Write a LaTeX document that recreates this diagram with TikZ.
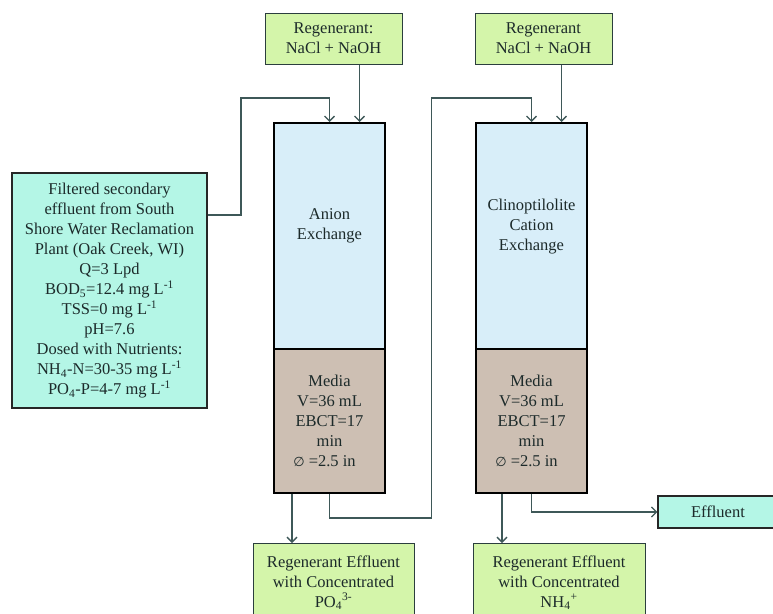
\documentclass[tikz,border=0pt]{standalone}
\usepackage{fontspec}
\setmainfont{Liberation Serif}
\newfontfamily\symfont{DejaVu Sans}
\usetikzlibrary{arrows.meta,calc}
\definecolor{boxgreen}{RGB}{212,245,170}
\definecolor{boxcyan}{RGB}{180,246,230}
\definecolor{colblue}{RGB}{216,238,249}
\definecolor{media}{RGB}{205,191,179}
\definecolor{pipe}{RGB}{62,88,88}
\definecolor{txt}{RGB}{28,42,42}
\begin{document}
\begin{tikzpicture}[x=1pt,y=-1pt,
  every node/.style={font=\fontsize{16.5}{20}\selectfont, text=txt, align=center, inner sep=0pt},
  gbox/.style={draw=pipe!70!black, fill=boxgreen, line width=1pt},
  cbox/.style={draw=black!85, fill=boxcyan, line width=1.2pt},
  colpart/.style={draw=black, line width=2pt},
  flow/.style={draw=pipe, line width=1.3pt, -{Straight Barb[length=5pt,width=10pt]}}]
\useasboundingbox (0,0) rectangle (773,613);
\fill[white] (0,0) rectangle (773,613);

% source box
\node (feed) [cbox, minimum width=195pt, minimum height=235pt] at (109.5,290.5)
 {Filtered secondary\\effluent from South\\Shore Water Reclamation\\Plant (Oak Creek, WI)\\Q=3 Lpd\\
  BOD\textsubscript{5}=12.4 mg L\textsuperscript{-1}\\TSS=0 mg L\textsuperscript{-1}\\pH=7.6\\
  Dosed with Nutrients:\\NH\textsubscript{4}-N=30-35 mg L\textsuperscript{-1}\\PO\textsubscript{4}-P=4-7 mg L\textsuperscript{-1}};

% regenerant boxes
\node (regL) [gbox, minimum width=137pt, minimum height=51pt] at (333.5,38.5) {Regenerant:\\NaCl + NaOH};
\node (regR) [gbox, minimum width=137pt, minimum height=51pt] at (543.5,38.5) {Regenerant\\NaCl + NaOH};

% columns
\node (colLtop) [colpart, fill=colblue, minimum width=111pt, minimum height=226pt] at (329.5,236) {};
\node (colLbot) [colpart, fill=media, minimum width=111pt, minimum height=144pt] at (329.5,421)
 {Media\\V=36 mL\\EBCT=17\\min\\{\symfont\fontsize{13}{20}\selectfont ∅} =2.5 in\hspace*{10pt}};
\node (colLtxt) at ($(colLtop.center)+(0,-10)$) {Anion\\Exchange};

\node (colRtop) [colpart, fill=colblue, minimum width=111pt, minimum height=226pt] at (531.5,236) {};
\node (colRbot) [colpart, fill=media, minimum width=111pt, minimum height=144pt] at (531.5,421)
 {Media\\V=36 mL\\EBCT=17\\min\\{\symfont\fontsize{13}{20}\selectfont ∅} =2.5 in\hspace*{10pt}};
\node (colRtxt) at ($(colRtop.center)+(0,-9)$) {Clinoptilolite\\Cation\\Exchange};

% outputs
\node (effL) [gbox, anchor=north, minimum width=161pt, minimum height=78pt] at (333.5,543)
 {Regenerant Effluent\\with Concentrated\\PO\textsubscript{4}\textsuperscript{3-}};
\node (effR) [gbox, anchor=north, minimum width=172pt, minimum height=78pt] at (559,543)
 {Regenerant Effluent\\with Concentrated\\NH\textsubscript{4}\textsuperscript{+}};
\node (effl) [cbox, minimum width=120pt, minimum height=32pt] at (718,512) {Effluent};

% connectors
\coordinate (fstart) at ($(feed.north east)!0.18!(feed.south east)$);
\coordinate (bendA) at (241,98);
\draw[flow] (fstart) -| (bendA) -| (colLtop.north);

\coordinate (inL) at ($(colLtop.north)+(30,0)$);
\draw[flow] (regL.south -| inL) -- (inL);
\coordinate (inR) at ($(colRtop.north)+(30,0)$);
\draw[flow] (regR.south -| inR) -- (inR);

\coordinate (bendC) at (431.5,518);
\coordinate (bendB) at (431.5,98);
\draw[flow] (colLbot.south) |- (bendC) -- (bendB) -| (colRtop.north);

\draw[flow] (colRbot.south) |- (effl.west);

\coordinate (dL) at ($(colLbot.south)+(-37.5,0)$);
\draw[flow] (dL) -- (dL |- effL.north);
\coordinate (dR) at ($(colRbot.south)+(-29.5,0)$);
\draw[flow] (dR) -- (dR |- effR.north);
\end{tikzpicture}
\end{document}
